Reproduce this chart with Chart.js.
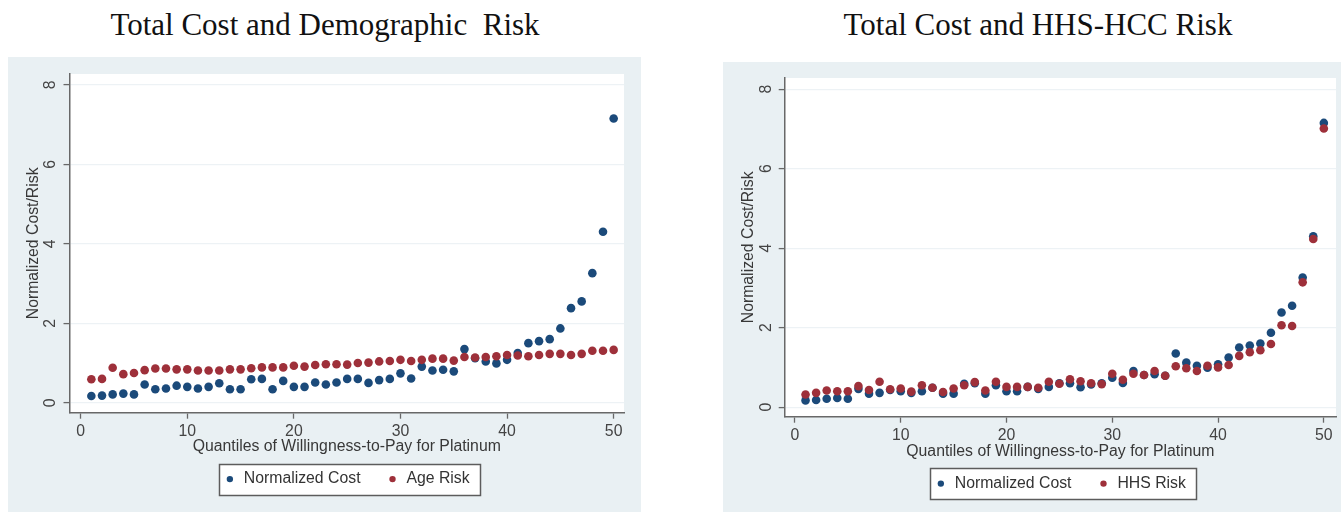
<!DOCTYPE html>
<html>
<head>
<meta charset="utf-8">
<script src="https://cdn.jsdelivr.net/npm/chart.js@4.4.1/dist/chart.umd.min.js"></script>
<style>
  html, body { margin: 0; padding: 0; background: #ffffff; width: 1341px; height: 512px; overflow: hidden; }
  .title { position: absolute; font-family: "Liberation Serif", "Times New Roman", serif; font-size: 31px;
           line-height: 1; color: #111; white-space: pre; text-align: center; }
  canvas { position: absolute; display: block; background: #e9f0f3; }
</style>
</head>
<body>
<div class="title" style="left:0px; width:650px; top:9px;">Total Cost and Demographic  Risk</div>
<div class="title" style="left:738px; width:600px; top:9px;">Total Cost and HHS-HCC Risk</div>
<canvas id="demo" width="633" height="455" style="left:8px; top:57px;"></canvas>
<canvas id="hhs" width="618" height="450" style="left:723px; top:62px;"></canvas>
<script>
// Quantile index on the x axis
const quantiles = [1, 2, 3, 4, 5, 6, 7, 8, 9, 10, 11, 12, 13, 14, 15, 16, 17, 18, 19, 20,
                   21, 22, 23, 24, 25, 26, 27, 28, 29, 30, 31, 32, 33, 34, 35, 36, 37, 38, 39, 40,
                   41, 42, 43, 44, 45, 46, 47, 48, 49, 50];

// Normalized total cost per quantile (shared by both panels)
const normalizedCost = [0.17, 0.18, 0.21, 0.23, 0.21, 0.46, 0.34, 0.36, 0.43, 0.40,
                        0.36, 0.40, 0.49, 0.34, 0.34, 0.59, 0.60, 0.34, 0.55, 0.40,
                        0.40, 0.51, 0.46, 0.51, 0.60, 0.60, 0.50, 0.57, 0.60, 0.74,
                        0.61, 0.91, 0.81, 0.83, 0.79, 1.35, 1.12, 1.04, 0.99, 1.08,
                        1.25, 1.50, 1.55, 1.60, 1.87, 2.38, 2.55, 3.26, 4.30, 7.15];

// Demographic (age) risk per quantile
const ageRisk = [0.59, 0.60, 0.88, 0.72, 0.75, 0.82, 0.86, 0.86, 0.84, 0.84,
                 0.81, 0.81, 0.81, 0.84, 0.84, 0.87, 0.89, 0.89, 0.89, 0.93,
                 0.91, 0.95, 0.97, 0.97, 0.96, 1.00, 1.01, 1.04, 1.05, 1.08,
                 1.05, 1.08, 1.11, 1.11, 1.06, 1.15, 1.14, 1.15, 1.17, 1.20,
                 1.19, 1.17, 1.20, 1.23, 1.23, 1.20, 1.23, 1.31, 1.31, 1.33];

// HHS-HCC risk per quantile
const hhsRisk = [0.32, 0.36, 0.42, 0.40, 0.40, 0.53, 0.43, 0.64, 0.45, 0.47,
                 0.39, 0.55, 0.49, 0.38, 0.47, 0.55, 0.63, 0.42, 0.64, 0.51,
                 0.51, 0.51, 0.49, 0.64, 0.59, 0.70, 0.65, 0.60, 0.58, 0.84,
                 0.69, 0.84, 0.81, 0.91, 0.79, 1.03, 0.98, 0.91, 1.04, 1.00,
                 1.06, 1.29, 1.38, 1.43, 1.59, 2.06, 2.04, 3.14, 4.23, 7.01];

// Axis tick values
const xTickValues = [0, 10, 20, 30, 40, 50];
const yTickValues = [0, 2, 4, 6, 8];

const NAVY = '#1b4a7a';
const MAROON = '#9e303a';
const SANS = '"Liberation Sans", Arial, sans-serif';
const AXIS = '#686868';
const FS = 15.8;

// White plot region and the framed legend box
const panelDecor = {
  id: 'panelDecor',
  beforeDraw(chart) {
    const { ctx, chartArea: a } = chart;
    ctx.save();
    ctx.fillStyle = '#ffffff';
    ctx.fillRect(a.left, a.top, a.right - a.left, a.bottom - a.top);
    const lg = chart.legend;
    if (lg && lg.legendHitBoxes && lg.legendHitBoxes.length) {
      const hb = lg.legendHitBoxes;
      const first = hb[0], last = hb[hb.length - 1];
      const cy = first.top + first.height / 2;
      const x0 = Math.round(first.left - 4.5), x1 = Math.round(last.left + last.width + 10);
      const y0 = Math.round(cy - 15.5), h = 31;
      ctx.fillRect(x0, y0, x1 - x0, h);
      ctx.strokeStyle = '#5c5c5c';
      ctx.lineWidth = 1.5;
      ctx.strokeRect(x0 + 0.5, y0 + 0.5, x1 - x0, h);
    }
    ctx.restore();
  }
};

function toPoints(values) {
  return quantiles.map((q, i) => ({ x: q, y: values[i] }));
}

function makeChart(id, riskLabel, riskValues, g) {
  return new Chart(document.getElementById(id), {
    type: 'scatter',
    data: {
      datasets: [
        { label: 'Normalized Cost', data: toPoints(normalizedCost), order: 1,
          backgroundColor: NAVY, borderColor: NAVY, borderWidth: 0,
          pointRadius: 4.3, pointHoverRadius: 4.3 },
        { label: riskLabel, data: toPoints(riskValues), order: 0,
          backgroundColor: MAROON, borderColor: MAROON, borderWidth: 0,
          pointRadius: 4.3, pointHoverRadius: 4.3 }
      ]
    },
    options: {
      responsive: false,
      animation: false,
      devicePixelRatio: 1,
      events: [],
      layout: { padding: { left: 0, right: g.padRight, top: g.padTop, bottom: g.padBottom } },
      plugins: {
        tooltip: { enabled: false },
        legend: {
          position: 'bottom',
          fullSize: false,
          labels: {
            usePointStyle: true, pointStyle: 'circle',
            boxWidth: 12, boxHeight: 4.5, padding: 26,
            color: '#333', font: { family: SANS, size: FS },
            sort: (a, b) => a.datasetIndex - b.datasetIndex
          }
        }
      },
      scales: {
        x: {
          type: 'linear', min: g.xMin, max: g.xMax,
          afterBuildTicks(s) { s.ticks = xTickValues.map(v => ({ value: v })); },
          afterFit(s) { s.height = g.xAxisH; },
          grid: { drawOnChartArea: false, drawTicks: true, tickLength: 6, tickColor: AXIS, tickWidth: 1.3 },
          border: { color: AXIS, width: 1.5 },
          ticks: { color: '#444', padding: 3, maxRotation: 0, font: { family: SANS, size: FS },
                   callback: v => String(v) },
          title: { display: true, text: 'Quantiles of Willingness-to-Pay for Platinum', color: '#383838',
                   font: { family: SANS, size: FS }, padding: { top: 0, bottom: g.xTitlePad } }
        },
        y: {
          type: 'linear', min: g.yMin, max: g.yMax,
          afterBuildTicks(s) { s.ticks = yTickValues.map(v => ({ value: v })); },
          afterFit(s) { s.width = g.yAxisW; },
          grid: { color: '#edf2f5', lineWidth: 1.2, drawTicks: true, tickLength: 6, tickColor: AXIS, tickWidth: 1.3 },
          border: { color: AXIS, width: 1.5 },
          ticks: { color: '#444', padding: 8, minRotation: 90, maxRotation: 90, crossAlign: 'center',
                   font: { family: SANS, size: FS, lineHeight: 0.95 }, callback: v => String(v) },
          title: { display: true, text: 'Normalized Cost/Risk', color: '#383838',
                   font: { family: SANS, size: FS }, padding: { top: 16.5, bottom: 0 } }
        }
      }
    },
    plugins: [panelDecor]
  });
}

makeChart('demo', 'Age Risk', ageRisk, {
  padRight: 17, padTop: 17, padBottom: 15, xAxisH: 32.5, yAxisW: 61.5, xTitlePad: -11.3,
  xMin: -1.05, xMax: 50.97, yMin: -0.25, yMax: 8.27
});

makeChart('hhs', 'HHS Risk', hhsRisk, {
  padRight: 5, padTop: 16, padBottom: 10.5, xAxisH: 33.0, yAxisW: 61.7, xTitlePad: -11.8,
  xMin: -0.97, xMax: 51.15, yMin: -0.24, yMax: 8.28
});
</script>
</body>
</html>
